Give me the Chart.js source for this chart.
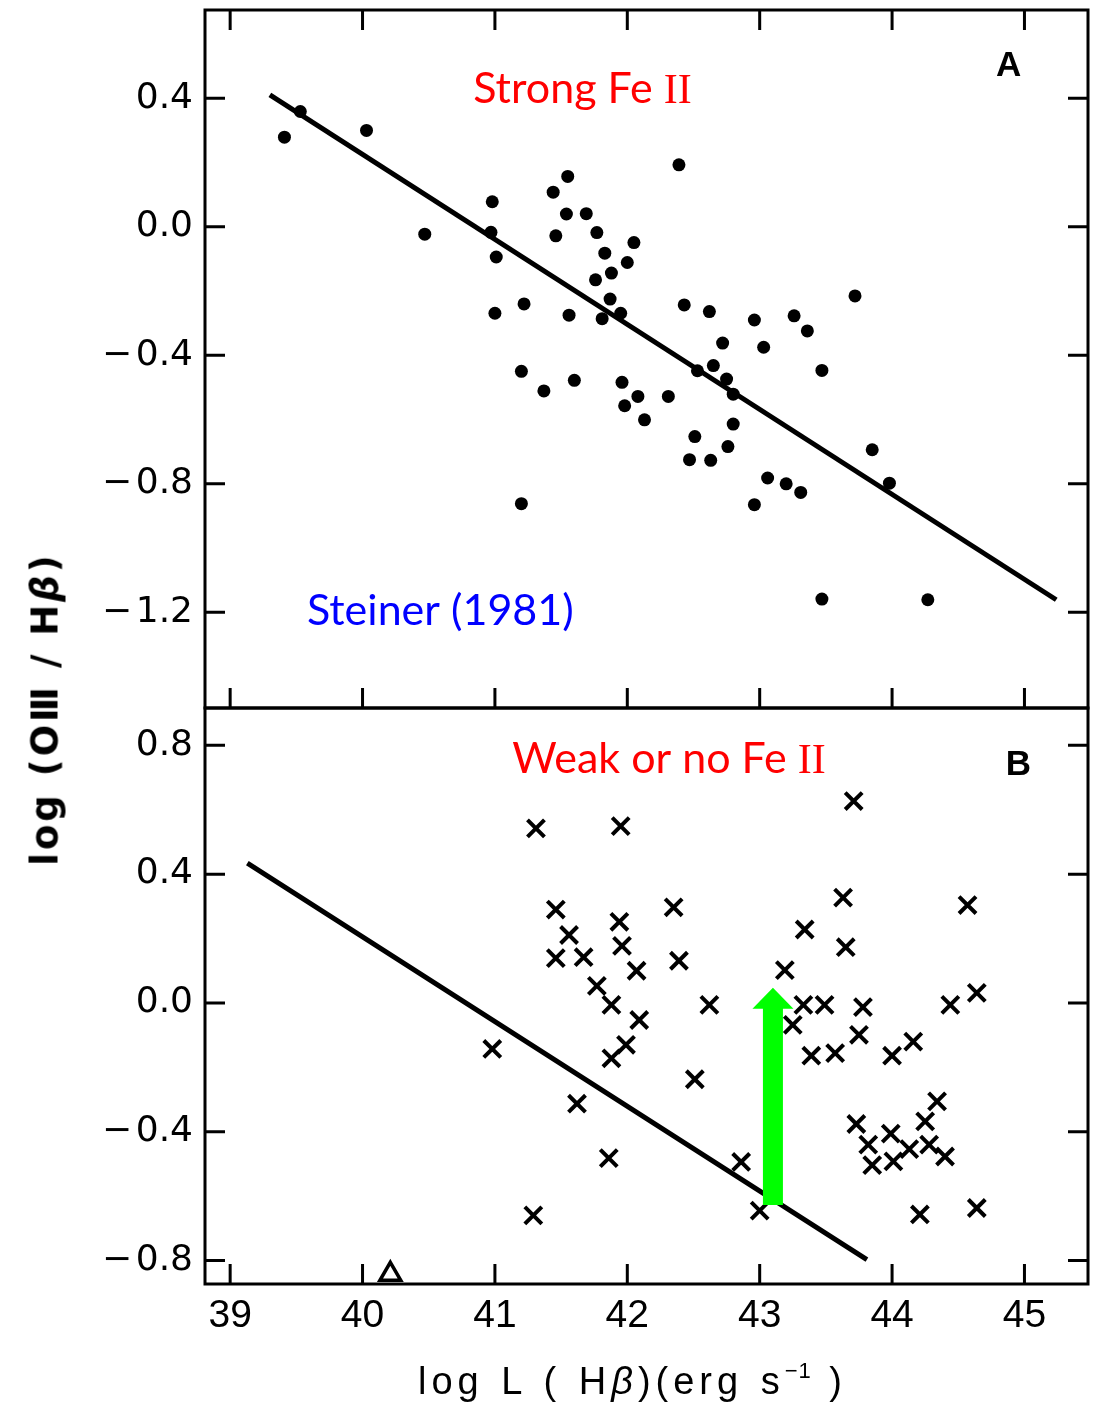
<!DOCTYPE html>
<html lang="en">
<head>
<meta charset="utf-8">
<title>log (OIII / Hβ) vs log L(Hβ)</title>
<script src="https://cdn.jsdelivr.net/npm/chart.js@4.4.1/dist/chart.umd.min.js"></script>
<style>
  html, body { margin: 0; padding: 0; background: #fff; }
  #page { position: relative; width: 1099px; height: 1403px; overflow: hidden; }
  canvas { position: absolute; left: 0; }
  #chartA { top: 0; }
  #chartB { top: 700px; }
  .axis-title { position: absolute; white-space: nowrap; color: #000; line-height: 1; }
  #yTitle { left: 45px; top: 709px; transform: translate(-50%, -50%) rotate(-90deg);
            font: bold 37px "DejaVu Sans", sans-serif; letter-spacing: 3px; }
  #xTitle { left: 418px; top: 1360px; font: 38px "Liberation Sans", Arial, sans-serif;
            letter-spacing: 5px; word-spacing: 2px; }
  #xTitle sup { font-size: 22px; vertical-align: 0.75em; line-height: 0; letter-spacing: 1px; }
</style>
</head>
<body>
<div id="page">
  <canvas id="chartA" width="1099" height="712"></canvas>
  <canvas id="chartB" width="1099" height="703"></canvas>
  <div id="yTitle" class="axis-title">log (O&#x2162; / H<i>β</i>)</div>
  <div id="xTitle" class="axis-title">log L ( H<i>β</i>)(erg s<sup>−1</sup> )</div>
</div>
<script>
// Panel A: objects with strong Fe II (filled dots)
const strongX = [39.41, 39.53, 40.03, 40.47, 40.98, 40.97, 41.01, 41.00, 41.22, 41.56,
                 41.55, 41.44, 41.54, 41.69, 41.46, 41.77, 41.83, 42.05, 42.00, 41.88,
                 41.76, 41.87, 41.95, 41.81, 42.39, 43.72, 42.43, 42.62, 42.96, 43.26,
                 43.36, 42.72, 43.03, 41.20, 41.37, 41.60, 41.96, 42.08, 41.98, 42.13,
                 41.20, 42.31, 42.53, 42.65, 42.75, 42.80, 43.47, 42.80, 42.51, 42.76,
                 42.47, 42.63, 43.06, 43.20, 43.31, 42.96, 43.85, 43.98, 43.47, 44.27];
const strongY = [0.279, 0.359, 0.300, -0.023, 0.078, -0.017, -0.094, -0.269, -0.240, -0.275,
                 0.157, 0.108, 0.040, 0.041, -0.028, -0.018, -0.082, -0.049, -0.111, -0.144,
                 -0.165, -0.225, -0.269, -0.286, 0.193, -0.215, -0.243, -0.264, -0.290, -0.277,
                 -0.324, -0.362, -0.375, -0.450, -0.511, -0.478, -0.484, -0.528, -0.557, -0.601,
                 -0.862, -0.528, -0.448, -0.432, -0.474, -0.521, -0.447, -0.614, -0.653, -0.684,
                 -0.725, -0.727, -0.782, -0.800, -0.827, -0.865, -0.694, -0.798, -1.159, -1.161];

// Panel B: weak or no Fe II (crosses)
const weakX = [41.31, 41.95, 41.46, 41.56, 41.46, 41.67, 41.94, 41.96, 42.07, 41.77,
               43.71, 42.35, 42.39, 43.63, 43.34, 43.65, 43.19, 44.57, 44.64, 42.09,
               42.62, 43.33, 43.49, 43.78, 44.44, 43.25, 43.75, 43.39, 43.57, 44.00,
               44.16, 42.51, 43.73, 44.34, 44.25, 43.99, 43.82, 44.13, 44.28, 44.40,
               43.85, 44.01, 42.86, 43.00, 44.21, 44.64, 40.98, 41.62, 41.86, 41.29,
               41.88, 41.99, 41.88];
const weakY = [0.542, 0.549, 0.290, 0.211, 0.139, 0.142, 0.252, 0.177, 0.100, 0.053,
               0.627, 0.297, 0.131, 0.327, 0.228, 0.173, 0.102, 0.304, 0.031, -0.053,
               -0.006, -0.006, -0.006, -0.013, -0.006, -0.068, -0.099, -0.164, -0.156, -0.164,
               -0.120, -0.237, -0.376, -0.306, -0.368, -0.406, -0.440, -0.454, -0.440, -0.477,
               -0.504, -0.492, -0.494, -0.645, -0.657, -0.637, -0.143, -0.313, -0.482, -0.660,
               -0.006, -0.130, -0.172];

// the single open triangle near the foot of panel B
const triX = [40.21];
const triY = [-0.843];

// regression line end points, one per panel
const fitAX = [39.30, 45.24];
const fitAY = [0.411, -1.161];
const fitBX = [39.13, 43.81];
const fitBY = [0.434, -0.797];

// axes
const xTicks = [39, 40, 41, 42, 43, 44, 45];
const yTicksA = [0.4, 0.0, -0.4, -0.8, -1.2];
const yTicksB = [0.8, 0.4, 0.0, -0.4, -0.8];
const xRange = [38.81, 45.48];
const yRangeA = [-1.498, 0.675];
const yRangeB = [-0.873, 0.916];

// green arrow in panel B (x, foot, tip in data units)
const arrowX = 43.10, arrowFrom = -0.628, arrowTo = 0.047;

const RED = '#ff0000', BLUE = '#0000ff';
const SANS = '43px Lato, "Open Sans", sans-serif';
const SERIF = '42px "Liberation Serif", "DejaVu Serif", serif';
const LETTER = '600 35px "Liberation Sans", Arial, sans-serif';

const notesA = [
  { x: 40.836, y: 0.386, parts: [['Strong Fe ', SANS, RED], ['II', SERIF, RED]] },
  { x: 39.58, y: -1.239, parts: [['Steiner (1981)', SANS, BLUE]] },
  { x: 44.88, y: 0.470, center: true, parts: [['A', LETTER, '#000']] }
];
const notesB = [
  { x: 41.13, y: 0.715, parts: [['Weak or no Fe ', SANS, RED], ['II', SERIF, RED]] },
  { x: 44.955, y: 0.708, center: true, parts: [['B', LETTER, '#000']] }
];

const pts = (xs, ys) => xs.map((x, i) => ({ x: x, y: ys[i] }));
const fmtY = v => (v < 0 ? '\u2212\u200A' : '') + Math.abs(v).toFixed(1);

function drawNote(ctx, px, py, note) {
  let widths = note.parts.map(([t, f]) => { ctx.font = f; return ctx.measureText(t).width; });
  let x = note.center ? px - widths.reduce((a, b) => a + b, 0) / 2 : px;
  note.parts.forEach(([t, f, c], i) => {
    ctx.font = f;
    ctx.fillStyle = c;
    ctx.fillText(t, x, py);
    x += widths[i];
  });
}

function drawArrow(ctx, xs, ys) {
  const cx = xs.getPixelForValue(arrowX);
  const yFoot = ys.getPixelForValue(arrowFrom);
  const yTip = ys.getPixelForValue(arrowTo);
  const headLen = 21, shaft = 10, head = 20.5;
  ctx.fillStyle = '#00ff00';
  ctx.beginPath();
  ctx.moveTo(cx - shaft, yFoot);
  ctx.lineTo(cx - shaft, yTip + headLen);
  ctx.lineTo(cx - head, yTip + headLen);
  ctx.lineTo(cx, yTip);
  ctx.lineTo(cx + head, yTip + headLen);
  ctx.lineTo(cx + shaft, yTip + headLen);
  ctx.lineTo(cx + shaft, yFoot);
  ctx.closePath();
  ctx.fill();
}

// box around a panel with inward tick marks, plus the panel's text notes
function panelFrame(cfg) {
  return {
    id: 'panelFrame',
    afterDatasetsDraw(chart) {
      const { ctx, chartArea: a } = chart;
      const xs = chart.scales.x, ys = chart.scales.y;
      const len = 20;
      ctx.save();
      if (cfg.arrow) drawArrow(ctx, xs, ys);
      ctx.strokeStyle = '#000';
      ctx.lineWidth = 3;
      ctx.strokeRect(a.left, a.top, a.right - a.left, a.bottom - a.top);
      ctx.beginPath();
      xTicks.forEach(v => {
        const px = xs.getPixelForValue(v);
        if (cfg.topTicks) { ctx.moveTo(px, a.top); ctx.lineTo(px, a.top + len); }
        ctx.moveTo(px, a.bottom); ctx.lineTo(px, a.bottom - len);
      });
      cfg.yTicks.forEach(v => {
        const py = ys.getPixelForValue(v);
        ctx.moveTo(a.left, py); ctx.lineTo(a.left + len, py);
        ctx.moveTo(a.right, py); ctx.lineTo(a.right - len, py);
      });
      ctx.stroke();
      ctx.textBaseline = 'alphabetic';
      ctx.textAlign = 'left';
      cfg.notes.forEach(n => drawNote(ctx, xs.getPixelForValue(n.x), ys.getPixelForValue(n.y), n));
      ctx.restore();
    }
  };
}

function yScale(range, ticks) {
  return {
    type: 'linear', min: range[0], max: range[1],
    afterBuildTicks: s => { s.ticks = ticks.map(v => ({ value: v })); },
    afterFit: s => { s.width = 205; s.paddingTop = 0; s.paddingBottom = 0; },
    grid: { display: false, drawTicks: false },
    border: { display: false },
    ticks: { color: '#000', padding: 12, font: { family: 'DejaVu Sans', size: 36 }, callback: fmtY }
  };
}

const common = {
  responsive: false,
  animation: false,
  events: [],
  plugins: { legend: { display: false }, tooltip: { enabled: false } }
};

new Chart(document.getElementById('chartA'), {
  type: 'scatter',
  data: {
    datasets: [
      { data: pts(strongX, strongY), pointRadius: 6.5, pointBackgroundColor: '#000', pointBorderWidth: 0 },
      { type: 'line', data: pts(fitAX, fitAY), borderColor: '#000', borderWidth: 5, pointRadius: 0, fill: false }
    ]
  },
  options: Object.assign({}, common, {
    layout: { autoPadding: false, padding: { top: 10, right: 11, bottom: 4, left: 0 } },
    scales: {
      x: { type: 'linear', display: false, min: xRange[0], max: xRange[1] },
      y: yScale(yRangeA, yTicksA)
    }
  }),
  plugins: [panelFrame({ topTicks: true, yTicks: yTicksA, notes: notesA })]
});

new Chart(document.getElementById('chartB'), {
  type: 'scatter',
  data: {
    datasets: [
      { data: pts(weakX, weakY), pointStyle: 'crossRot', pointRadius: 12, pointBorderWidth: 4, pointBorderColor: '#000' },
      { data: pts(triX, triY), pointStyle: 'triangle', pointRadius: 12, pointBorderWidth: 3.5,
        pointBorderColor: '#000', pointBackgroundColor: '#fff', clip: false },
      { type: 'line', data: pts(fitBX, fitBY), borderColor: '#000', borderWidth: 5, pointRadius: 0, fill: false }
    ]
  },
  options: Object.assign({}, common, {
    layout: { autoPadding: false, padding: { top: 8, right: 11, bottom: 0, left: 0 } },
    scales: {
      x: {
        type: 'linear', min: xRange[0], max: xRange[1],
        afterBuildTicks: s => { s.ticks = xTicks.map(v => ({ value: v })); },
        afterFit: s => { s.height = 119; s.paddingLeft = 0; s.paddingRight = 0; },
        grid: { display: false, drawTicks: false },
        border: { display: false },
        ticks: { color: '#000', padding: 9, maxRotation: 0, autoSkip: false,
                 font: { family: 'Liberation Sans', size: 39 }, callback: v => String(v) }
      },
      y: yScale(yRangeB, yTicksB)
    }
  }),
  plugins: [panelFrame({ topTicks: false, arrow: true, yTicks: yTicksB, notes: notesB })]
});
</script>
</body>
</html>
